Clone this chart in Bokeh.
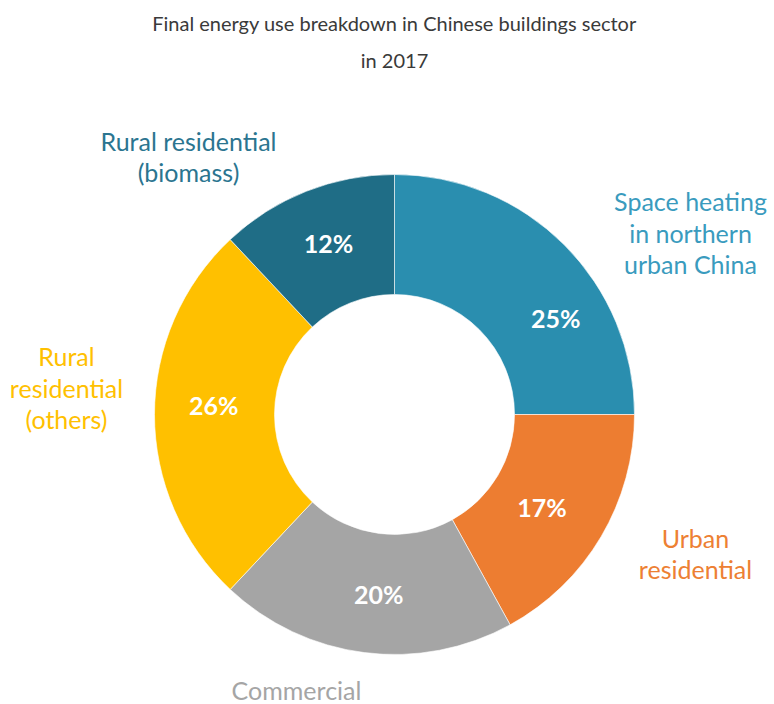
import numpy as np
from bokeh.plotting import figure
from bokeh.models import Range1d, ColumnDataSource
from bokeh.core.properties import value
from bokeh.embed import file_html
from bokeh.resources import INLINE

# ---- data ----
categories = ["Space heating\nin northern\nurban China", "Urban\nresidential", "Commercial",
              "Rural\nresidential\n(others)", "Rural residential\n(biomass)"]
shares = [25, 17, 20, 26, 12]
pct_labels = ["25%", "17%", "20%", "26%", "12%"]
slice_colors = ["#2A8EAF", "#ED7D31", "#A5A5A5", "#FFC000", "#1F6D86"]
label_colors = ["#3A9BBE", "#ED8033", "#A5A5A5", "#FFC000", "#2B7590"]
title_lines = ["Final energy use breakdown in Chinese buildings sector", "in 2017"]

# ---- layout constants ----
W, H = 774, 704
cx, cy = 394, H - 414
r_out, r_in = 240, 120
pct_angle_deg = [59, 122, 185, 273, 339]   # clockwise from top
pct_radius = [188, 174, 180, 181, 184]
cat_pos = [(690, H - 232), (695, H - 553), (296, H - 689), (66, H - 387), (188, H - 156)]
FONT = "Lato"

p = figure(width=W, height=H, output_backend="svg", toolbar_location=None,
           x_range=Range1d(0, W), y_range=Range1d(0, H),
           min_border=0, outline_line_color=None)
p.axis.visible = False
p.grid.visible = False
p.background_fill_color = "white"
p.border_fill_color = "white"

tot = float(sum(shares))
frac = np.array(shares) / tot
cum = np.concatenate([[0], np.cumsum(frac)])
start = np.pi / 2 - cum[:-1] * 2 * np.pi
end = np.pi / 2 - cum[1:] * 2 * np.pi

src = ColumnDataSource(dict(start=start, end=end, color=slice_colors))
p.annular_wedge(x=cx, y=cy, inner_radius=r_in, outer_radius=r_out,
                start_angle="start", end_angle="end", direction="clock",
                fill_color="color", line_color="white", line_width=0.6, source=src)

ang = np.radians(pct_angle_deg)
px = [cx + r * np.sin(a) for r, a in zip(pct_radius, ang)]
py = [cy + r * np.cos(a) for r, a in zip(pct_radius, ang)]
p.text(x=px, y=py, text=pct_labels, text_align="center", text_baseline="middle",
       text_color="white", text_font=value(FONT), text_font_style="bold",
       text_font_size="25px")

p.text(x=[c[0] for c in cat_pos], y=[c[1] for c in cat_pos], text=categories,
       text_align="center", text_baseline="middle", text_color=label_colors,
       text_font=value(FONT), text_font_size="25px", text_line_height=1.05)

p.text(x=[394, 394], y=[H - 22, H - 59], text=title_lines, text_align="center",
       text_baseline="middle", text_color="#3A3A3A", text_font=value(FONT),
       text_font_size="20px")

open("out.html", "w").write(file_html(p, INLINE))
